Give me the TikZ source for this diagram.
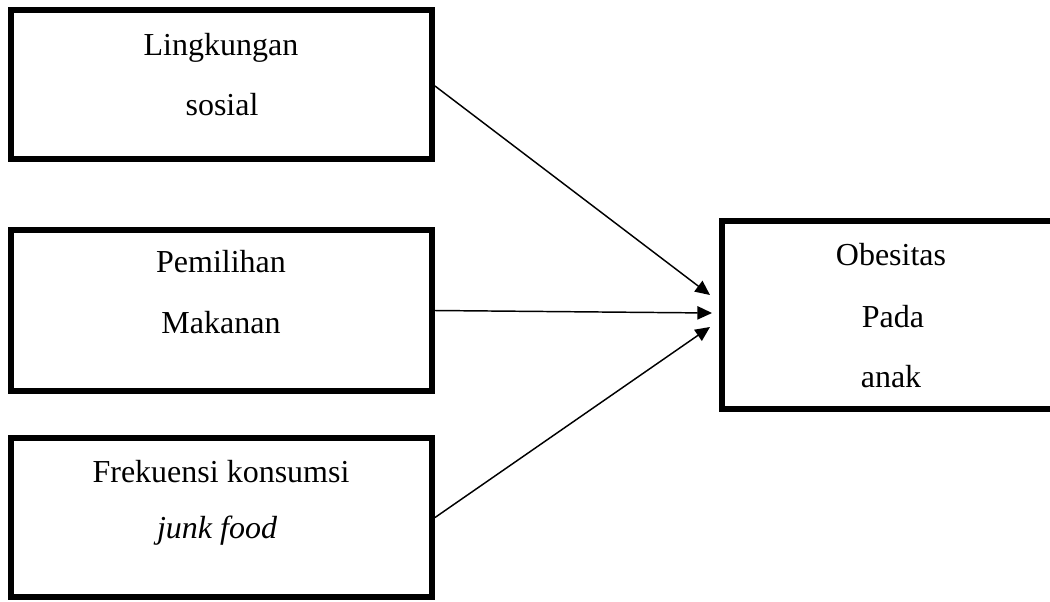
\documentclass[tikz,border=0pt]{standalone}
\usepackage{fontspec}
\setmainfont{Liberation Serif}
\usetikzlibrary{arrows.meta,calc}
\begin{document}
\begin{tikzpicture}[x=0.75pt,y=-0.75pt,
  box/.style={draw=black,line width=4.5pt,fill=none,inner sep=0pt},
  lbl/.style={anchor=base,inner sep=0pt,font=\fontsize{24}{28}\selectfont},
  conn/.style={line width=1.1pt,-{Triangle[length=11pt,width=10pt]}}]
\clip (0,0) rectangle (1050,601);
\fill[white] (0,0) rectangle (1050,601);
% boxes
\node[box,minimum width=315.75pt,minimum height=111.75pt] (b1) at (221.5,84.5) {};
\node[box,minimum width=315.75pt,minimum height=120.75pt] (b2) at (221.5,310.5) {};
\node[box,minimum width=315.75pt,minimum height=119.25pt] (b3) at (221.5,517.5) {};
\node[box,minimum width=253.5pt,minimum height=141pt] (b4) at (891,315) {};
% texts
\node[lbl] (t1a) at (221,55) {Lingkungan};
\node[lbl] (t1b) at (222,115) {sosial};
\node[lbl] (t2a) at (221,272) {Pemilihan};
\node[lbl] (t2b) at (221,333) {Makanan};
\node[lbl] (t3a) at (221,482) {Frekuensi konsumsi};
\node[lbl] (t3b) at (217,538) {\itshape junk food};
\node[lbl] (t4a) at (891,265) {Obesitas};
\node[lbl] (t4b) at (893,327) {Pada};
\node[lbl] (t4c) at (891,387) {anak};
% arrow end points
\coordinate (e1) at ($(b4.west)+(-9,-20)$);
\coordinate (e2) at ($(b4.west)+(-7,-2)$);
\coordinate (e3) at ($(b4.west)+(-9,12)$);
\draw[conn] ($(b1.east)+(0,1.5)$) -- (e1);
\draw[conn] (b2.east) -- (e2);
\draw[conn] (b3.east) -- (e3);
\end{tikzpicture}
\end{document}
